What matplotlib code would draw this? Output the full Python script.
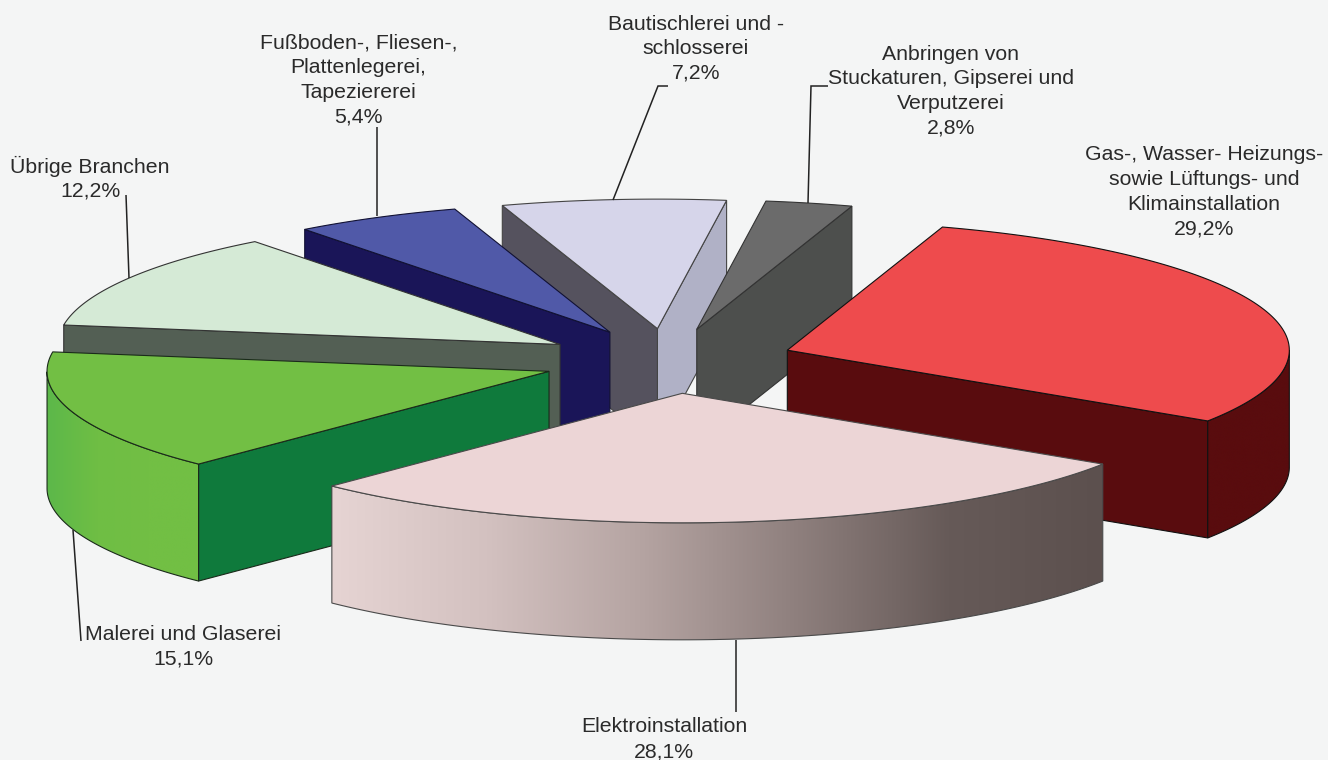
import matplotlib
matplotlib.use("Agg")
import matplotlib.pyplot as plt
from matplotlib.colors import to_rgb
from matplotlib.patches import Polygon
import numpy as np

# Anteile im Uhrzeigersinn, beginnend mit der roten Scheibe
BRANCHEN = [
    ["Gas-, Wasser- Heizungs-", "sowie Lüftungs- und", "Klimainstallation"],
    ["Elektroinstallation"],
    ["Malerei und Glaserei"],
    ["Übrige Branchen"],
    ["Fußboden-, Fliesen-,", "Plattenlegerei,", "Tapeziererei"],
    ["Bautischlerei und -", "schlosserei"],
    ["Anbringen von", "Stuckaturen, Gipserei und", "Verputzerei"],
]
ANTEILE = [29.2, 28.1, 15.1, 12.2, 5.4, 7.2, 2.8]

OBEN = ["#ee4b4d", "#ecd5d6", "#72bf44", "#d5ead6", "#5059a8", "#d6d5ea", "#6b6b6b"]
WAND_LO = ["#590c0e", "#5c4f4e", "#0f7a3c", "#535f54", "#1a1558", "#b0b1c6", "#4d4f4d"]
WAND_HI = ["#590c0e", "#5c4f4e", "#0f7a3c", "#535f54", "#1a1558", "#55525e", "#4d4f4d"]
AUSSEN = [
    ["#590c0e", "#590c0e"],
    ["#e6d4d3", "#d3c1c0", "#b5a4a2", "#8f807e", "#665a58", "#5c504e"],
    ["#5cb84a", "#6fbe44", "#72bf44", "#72bf44"],
    ["#d5ead6", "#d5ead6"],
    ["#1a1558", "#1a1558"],
    ["#55525e", "#55525e"],
    ["#4d4f4d", "#4d4f4d"],
]
KANTE = ["#111111", "#4a4a4a", "#1a2a1a", "#333333", "#111133", "#444444", "#333333"]
REIHENFOLGE = [5, 6, 4, 3, 2, 0, 1]  # von hinten nach vorne

# Projektion der Torte in Pixeln
CX, CY = 668.5, 361
RX, RY = 502, 129.5
HOEHE = 117
EXPLOSION = 126
START = 72.0

# Beschriftung: Mitte x, Zeilen-y (erste Zeile), Zeilenabstand
TEXT_X = [1204, 664, 183, 90, 358.5, 696, 951]
TEXT_Y = [155, 727, 634, 166, 43, 24, 54]
ZEILE = 24.6
FUEHRUNG = [
    [(808, 203), (811, 86), (828, 86)],
    [(613, 200), (658, 86), (668, 86)],
    [(377, 216), (377, 127)],
    [(129, 278), (126, 195)],
    [(73, 530), (81, 641)],
    [(736, 640), (736, 712)],
]

plt.rcParams["font.family"] = ["Liberation Sans", "DejaVu Sans"]

fig = plt.figure(figsize=(13.28, 7.6), dpi=100, facecolor="#f4f5f5")
ax = fig.add_axes([0, 0, 1, 1])
ax.set_xlim(0, 1328)
ax.set_ylim(760, 0)
ax.set_aspect("auto")
ax.axis("off")


def punkt(x0, y0, t):
    return x0 + RX * np.cos(t), y0 - RY * np.sin(t)


def verlauf(stopps):
    werte = np.array([to_rgb(s) for s in stopps])
    pos = np.linspace(0, 1, len(werte))
    f = np.linspace(0, 1, 512)
    return np.stack([np.interp(f, pos, werte[:, k]) for k in range(3)], axis=-1)[None, :, :]


def scheibe(i, hi_deg, lo_deg, rang):
    mitte = np.radians((hi_deg + lo_deg) / 2)
    x0 = CX + EXPLOSION * np.cos(mitte)
    y0 = CY - EXPLOSION * RY / RX * np.sin(mitte)
    hi, lo = np.radians(hi_deg), np.radians(lo_deg)
    kante = KANTE[i]
    z = 1 + rang * 10

    # sichtbare Schnittflächen
    for t, normale, farbe in ((lo, lo - np.pi / 2, WAND_LO[i]), (hi, hi + np.pi / 2, WAND_HI[i])):
        if np.sin(normale) < 0:
            xr, yr = punkt(x0, y0, t)
            ax.add_patch(Polygon([(x0, y0), (xr, yr), (xr, yr + HOEHE), (x0, y0 + HOEHE)],
                                 closed=True, fc=farbe, ec=kante, lw=0.8, zorder=z))

    # Mantel, nur der vordere Teil des Bogens
    n = int(max(hi_deg - lo_deg, 1) * 4)
    winkel = np.linspace(lo, hi, n)
    winkel = winkel[np.sin(winkel) <= 0]
    if len(winkel) > 1:
        xs, ys = punkt(x0, y0, winkel)
        umriss = list(zip(xs, ys)) + list(zip(xs[::-1], ys[::-1] + HOEHE))
        bild = ax.imshow(verlauf(AUSSEN[i]), extent=(xs.min(), xs.max(), ys.max() + HOEHE, ys.min()),
                         aspect="auto", zorder=z + 1, interpolation="bilinear")
        rand = Polygon(umriss, closed=True, fc="none", ec=kante, lw=0.8, zorder=z + 2)
        ax.add_patch(rand)
        bild.set_clip_path(rand)

    # Deckfläche
    t = np.linspace(lo, hi, n)
    xs, ys = punkt(x0, y0, t)
    ax.add_patch(Polygon([(x0, y0)] + list(zip(xs, ys)), closed=True,
                         fc=OBEN[i], ec=kante, lw=0.8, zorder=z + 3))


grenzen = START - np.cumsum([0] + ANTEILE) * 3.6
for rang, i in enumerate(REIHENFOLGE):
    scheibe(i, grenzen[i], grenzen[i + 1], rang)

ax.set_xlim(0, 1328)
ax.set_ylim(760, 0)

for pfad in FUEHRUNG:
    ax.plot(*zip(*pfad), color="#222222", lw=1.1, solid_capstyle="butt",
            solid_joinstyle="miter", zorder=100)

for i, zeilen in enumerate(BRANCHEN):
    for k, z in enumerate(zeilen + [f"{ANTEILE[i]:.1f}%".replace(".", ",")]):
        ax.text(TEXT_X[i], TEXT_Y[i] + k * ZEILE, z, ha="center", va="center",
                fontsize=15.3, color="#2a2a2a", zorder=101)

fig.savefig("out.png", dpi=100, facecolor=fig.get_facecolor())
